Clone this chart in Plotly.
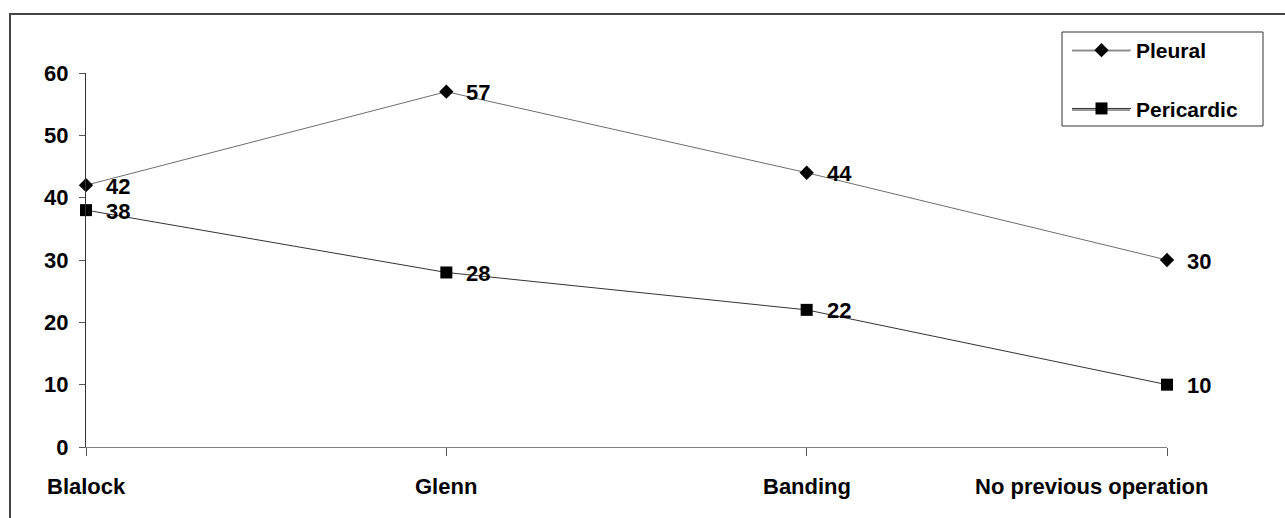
import plotly.graph_objects as go

categories = ["Blalock", "Glenn", "Banding", "No previous operation"]
pleural = [42, 57, 44, 30]
pericardic = [38, 28, 22, 10]
y_ticks = [0, 10, 20, 30, 40, 50, 60]

FONT = "Liberation Sans, Arial, sans-serif"
W, H = 1285, 518
L, R, T, B = 86, 1167, 73, 447
pw, ph = R - L, B - T


def px_x(p):  # page x -> paper
    return (p - L) / pw


def px_y(p):  # page y -> paper
    return (B - p) / ph


fig = go.Figure()
series = [
    ("Pleural", pleural, "#6e6e6e", "diamond", 11, "a"),
    ("Pericardic", pericardic, "#333333", "square", 12, "b"),
]
annotations = []
for name, vals, lc, sym, ms, grp in series:
    fig.add_trace(go.Scatter(
        x=categories, y=vals, name=name, mode="lines+markers",
        line=dict(color=lc, width=1),
        marker=dict(symbol=sym, size=ms, color="black"),
        cliponaxis=False, legendgroup=grp,
    ))
    for c, v in zip(categories, vals):
        annotations.append(dict(
            x=c, y=v, xref="x", yref="y", text=str(v), showarrow=False,
            xanchor="left", yanchor="middle", xshift=18, yshift=-1,
            font=dict(family=FONT, size=22, color="black", weight="bold"),
        ))

# category labels below the x axis (last one kept inside the chart, as in the original)
for i, c in enumerate(categories):
    last = i == len(categories) - 1
    annotations.append(dict(
        x=c, y=px_y(486), xref="x", yref="paper", text=c, showarrow=False,
        xanchor="right" if last else "center", yanchor="middle",
        xshift=43 if last else 0,
        font=dict(family=FONT, size=22, color="black", weight="bold"),
    ))

shapes = [
    dict(type="rect", xref="paper", yref="paper",
         x0=px_x(10), x1=px_x(1300), y0=px_y(540), y1=px_y(14),
         line=dict(color="#444444", width=2), fillcolor="rgba(0,0,0,0)", layer="below"),
    dict(type="rect", xref="paper", yref="paper",
         x0=px_x(1062), x1=px_x(1263), y0=px_y(126), y1=px_y(32),
         line=dict(color="#333333", width=1), fillcolor="white", layer="below"),
    dict(type="line", xref="paper", yref="paper",
         x0=px_x(1072), x1=px_x(1130), y0=px_y(51), y1=px_y(51),
         line=dict(color="#8a8a8a", width=1), layer="below"),
    dict(type="line", xref="paper", yref="paper",
         x0=px_x(1072), x1=px_x(1130), y0=px_y(110), y1=px_y(110),
         line=dict(color="#333333", width=1), layer="below"),
]

fig.update_layout(
    width=W, height=H,
    margin=dict(l=L, r=W - R, t=T, b=H - B),
    paper_bgcolor="white", plot_bgcolor="rgba(0,0,0,0)",
    font=dict(family=FONT, size=22, color="black", weight="bold"),
    showlegend=True,
    legend=dict(
        x=px_x(1067), y=px_y(30), xanchor="left", yanchor="top",
        bgcolor="rgba(0,0,0,0)", borderwidth=0,
        tracegroupgap=28, itemwidth=59,
        font=dict(family=FONT, size=21, color="black", weight="bold"),
    ),
    xaxis=dict(
        range=[0, 3], showgrid=False, zeroline=False,
        showline=True, linecolor="#808080", linewidth=1,
        ticks="outside", ticklen=8, tickcolor="#555555",
        showticklabels=False,
    ),
    yaxis=dict(
        range=[0, 60], tickvals=y_ticks, showgrid=False, zeroline=False,
        showline=True, linecolor="#333333", linewidth=1,
        ticks="outside", ticklen=6, tickcolor="#555555",
        ticklabelstandoff=6,
        tickfont=dict(family=FONT, size=22, color="black", weight="bold"),
    ),
    shapes=shapes,
    annotations=annotations,
)

fig.write_html(
    "out.html",
    config={"displayModeBar": False},
    post_script=(
        "document.body.style.margin='0';"
        "document.body.style.overflow='hidden';"
        "document.documentElement.style.overflow='hidden';"
    ),
)
